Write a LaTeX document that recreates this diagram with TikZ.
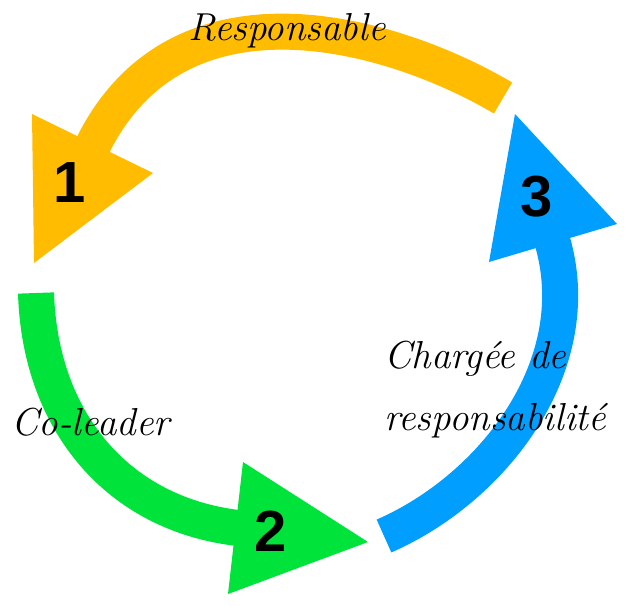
\documentclass[tikz,border=0pt]{standalone}
\usepackage{fontspec}
\usepackage{tikz}
\newfontfamily\numfont{Liberation Sans}

\definecolor{cyOrange}{RGB}{255,188,0}
\definecolor{cyGreen}{RGB}{0,227,58}
\definecolor{cyBlue}{RGB}{0,158,255}

\begin{document}
\begin{tikzpicture}[x=1pt,y=-1pt,
  shaft/.style={line width=36pt},
  num/.style={inner sep=0pt, font=\numfont\bfseries\fontsize{58}{60}\selectfont},
  lbl/.style={inner sep=0pt, anchor=base west, font=\itshape\fontsize{39}{42}\selectfont}]
\useasboundingbox (0,0) rectangle (631,605);

\coordinate (t1) at (503,98);
\coordinate (h1) at (92,147);
\coordinate (t2) at (36,293);
\coordinate (h2) at (238,528);
\coordinate (t3) at (384,536);
\coordinate (h3) at (552,240);

\draw[shaft, cyOrange] (t1) .. controls (395,34) and (179,-31) .. (h1);
\draw[shaft, cyGreen]  (t2) .. controls (40,423) and (119,514) .. (h2);
\draw[shaft, cyBlue]   (t3) .. controls (494,488) and (589,364) .. (h3);

\fill[cyOrange] (32,114) -- (153,173) -- (34,263) -- cycle;
\fill[cyGreen]  (243,462) -- (368,542) -- (228,594) -- cycle;
\fill[cyBlue]   (515,114) -- (617,224) -- (489,262) -- cycle;

\node[num] (n1) at (70,183) {1};
\node[num] (n2) at (271,531) {2};
\node[num] (n3) at (537,197) {3};

%\node[lbl] (l1) at (190,40) {Responsable};
\node[lbl] (l1) at (188,40) {Responsable};
\node[lbl] (l2) at (11,435) {Co-leader};
\node[lbl] (l3) at (384,368) {Chargée de};
\node[lbl] (l4) at (384,430) {responsabilité};
\end{tikzpicture}
\end{document}
